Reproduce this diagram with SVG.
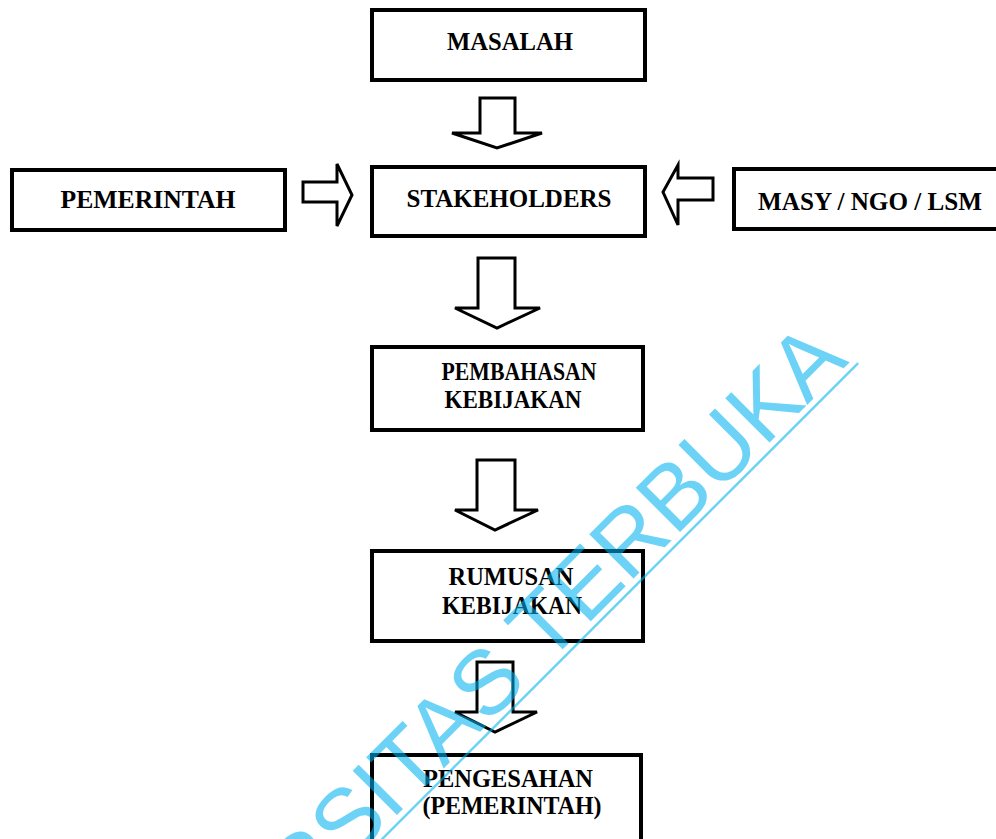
<svg xmlns="http://www.w3.org/2000/svg" width="996" height="839" viewBox="0 0 996 839">
<style>
.box{fill:#fff;stroke:#000;stroke-width:4}
.arr{fill:#fff;stroke:#000;stroke-width:3;stroke-linejoin:miter}
.t{font-family:"Liberation Serif","Times New Roman",serif;font-weight:bold;font-size:26px;fill:#000;text-anchor:middle}
.wm{font-family:"Liberation Sans",Arial,sans-serif;font-size:91px;fill:#00B2F0;text-anchor:end}
</style>
<rect width="996" height="839" fill="#fff"/>
<g id="connectors">
<path class="arr" d="M480,98 H515 V133 H542 L497,148 L452,133 H480 Z"/>
<path class="arr" d="M478,258 H515 V308 H540 L497,328 L455,308 H478 Z"/>
<path class="arr" d="M477,460 H515 V510 H538 L495,530 L455,510 H477 Z"/>
<path class="arr" d="M477,662 H513 V712 H537 L495,732 L455,712 H477 Z"/>
<path class="arr" d="M303,182 H337 V164 L352,195 L337,226 V202 H303 Z"/>
<path class="arr" d="M713,178 H678 V165 L663,192 L678,225 V200 H713 Z"/>
</g>
<g id="masalah">
<rect class="box" x="372" y="10" width="273" height="70"/>
<text class="t" x="510" y="50" textLength="126" lengthAdjust="spacingAndGlyphs">MASALAH</text>
</g>
<g id="stakeholders">
<rect class="box" x="372" y="167" width="273" height="69"/>
<text class="t" x="509" y="207" textLength="205" lengthAdjust="spacingAndGlyphs">STAKEHOLDERS</text>
</g>
<g id="pemerintah">
<rect class="box" x="12" y="170" width="273" height="60"/>
<text class="t" x="148" y="208" textLength="175" lengthAdjust="spacingAndGlyphs">PEMERINTAH</text>
</g>
<g id="masy">
<rect class="box" x="734" y="169" width="272" height="60"/>
<text class="t" x="870" y="210" textLength="224" lengthAdjust="spacingAndGlyphs">MASY / NGO / LSM</text>
</g>
<g id="pembahasan">
<rect class="box" x="372" y="347" width="271" height="83"/>
<text class="t" x="519" y="380" textLength="155" lengthAdjust="spacingAndGlyphs">PEMBAHASAN</text>
<text class="t" x="513" y="408" textLength="137" lengthAdjust="spacingAndGlyphs">KEBIJAKAN</text>
</g>
<g id="rumusan">
<rect class="box" x="372" y="551" width="271" height="90"/>
<text class="t" x="511" y="585" textLength="125" lengthAdjust="spacingAndGlyphs">RUMUSAN</text>
<text class="t" x="512" y="614" textLength="140" lengthAdjust="spacingAndGlyphs">KEBIJAKAN</text>
</g>
<g id="pengesahan">
<rect class="box" x="372" y="755" width="269" height="100"/>
<text class="t" x="508" y="787" textLength="170" lengthAdjust="spacingAndGlyphs">PENGESAHAN</text>
<text class="t" x="512" y="814" textLength="179" lengthAdjust="spacingAndGlyphs">(PEMERINTAH)</text>
</g>
<g id="watermark" opacity="0.57" transform="translate(850,362) rotate(-45)">
<text class="wm" x="0" y="0">RSITAS TERBUKA</text>
<line x1="5" y1="6.5" x2="-900" y2="6.5" stroke="#00B2F0" stroke-width="2.5"/>
</g>
</svg>
